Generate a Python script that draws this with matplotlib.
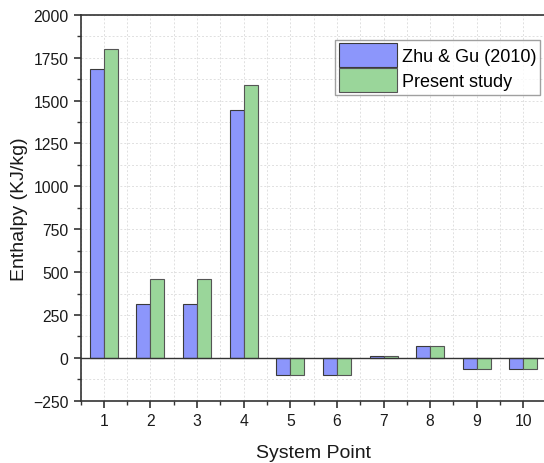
import matplotlib
matplotlib.use("Agg")
import matplotlib.pyplot as plt
import numpy as np
from matplotlib.ticker import MultipleLocator

plt.rcParams['font.family'] = ['Liberation Sans', 'DejaVu Sans']

points = [1, 2, 3, 4, 5, 6, 7, 8, 9, 10]
zhu_gu = [1685, 315, 315, 1445, -100, -100, 12, 72, -62, -62]
present = [1800, 460, 460, 1592, -100, -100, 12, 72, -62, -62]
labels = ["Zhu & Gu (2010)", "Present study"]

fig = plt.figure(figsize=(5.44, 4.64), dpi=100)
ax = fig.add_axes([0.148, 0.134, 0.857, 0.832])

x = np.array(points)
w = 0.3
ax.bar(x - w/2, zhu_gu, width=w, color='#8C96FB', edgecolor='#3a3a3a', linewidth=0.8, label=labels[0], zorder=3)
ax.bar(x + w/2, present, width=w, color='#9AD69A', edgecolor='#555555', linewidth=0.8, label=labels[1], zorder=3)

ax.axhline(0, color='#333333', linewidth=1.0, zorder=4)

ax.set_xlim(0.5, 10.5)
ax.set_ylim(-250, 2000)
ax.set_xticks(points)
ax.xaxis.set_minor_locator(MultipleLocator(0.5))
ax.yaxis.set_major_locator(MultipleLocator(250))
ax.yaxis.set_minor_locator(MultipleLocator(125))

ax.grid(True, which='both', linestyle=(0, (2, 2)), color='#e0e0e0', linewidth=0.7, zorder=0)

for s in ['left', 'bottom', 'top']:
    ax.spines[s].set_color('#333333')
    ax.spines[s].set_linewidth(1.2)
ax.spines['right'].set_visible(False)

ax.tick_params(axis='both', which='major', direction='out', length=5, width=1.2, color='#333333', labelsize=11.3, labelcolor='#1a1a1a')
ax.tick_params(axis='both', which='minor', direction='out', length=3, width=1.0, color='#333333')
ax.tick_params(top=False, right=False, which='both')

ax.set_xlabel('System Point', fontsize=14, color='#1a1a1a', labelpad=12)
ax.set_ylabel('Enthalpy (KJ/kg)', fontsize=14, color='#1a1a1a', labelpad=4)

leg = ax.legend(loc='upper right', bbox_to_anchor=(0.986, 0.935), fontsize=13, handlelength=3.2, handleheight=1.6,
                frameon=True, fancybox=False, edgecolor='#888888', borderpad=0.2, labelspacing=0.1, handletextpad=0.3,
                borderaxespad=0)
leg.get_frame().set_linewidth(1.0)

fig.savefig('out.png', dpi=100)
